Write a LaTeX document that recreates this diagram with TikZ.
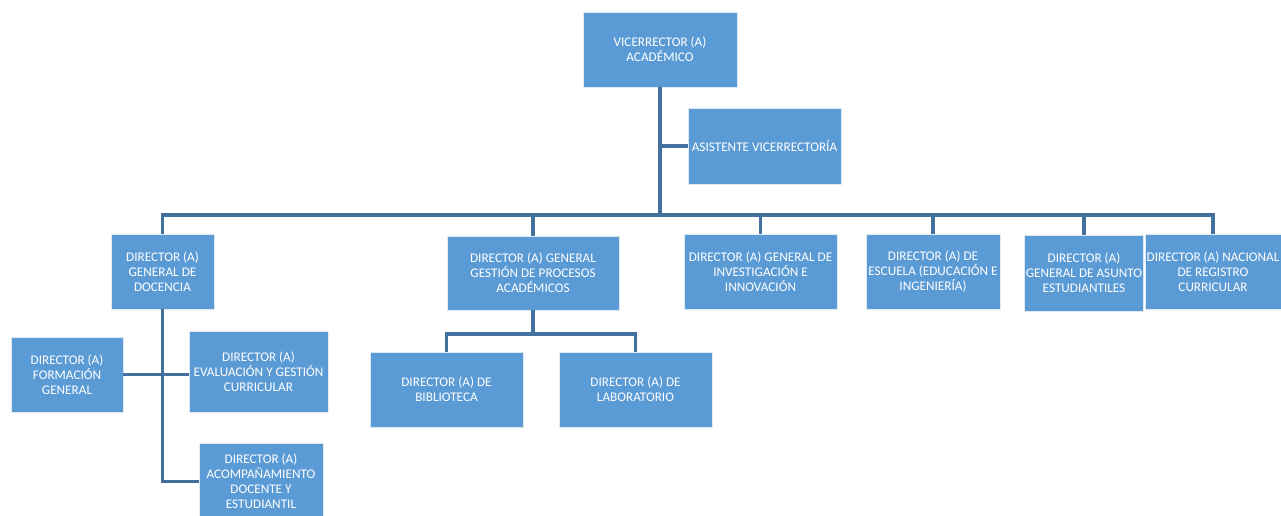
\documentclass[tikz,border=0pt]{standalone}
\usepackage{fontspec}
\setmainfont{Carlito}
\definecolor{cajaazul}{HTML}{5B9BD5}
\definecolor{lineaazul}{HTML}{41719C}

\begin{document}
\begin{tikzpicture}[x=0.025cm,y=-0.025cm,
	caja/.style={rectangle, fill=cajaazul, draw=white!80!cajaazul, line width=0.5pt,
		text=white, align=center, inner sep=1pt,
		font=\fontsize{9.4}{10.6}\selectfont},
	tam/.style 2 args={minimum width=#1*0.025cm, minimum height=#2*0.025cm},
	linea/.style={draw=lineaazul, line width=2.4pt}]

	\useasboundingbox (0,0) rectangle (1281,515);

	%vicerrectoria
	\node [caja, tam={154}{75}] (vice) at (660,49.5) {VICERRECTOR (A)\\ACADÉMICO};
	\node [caja, tam={153}{76}] (asis) at (764.5,146) {ASISTENTE VICERRECTORÍA};

	%directores generales
	\node [caja, tam={103}{75}] (doc) at (162.5,271.5) {DIRECTOR (A)\\GENERAL DE\\DOCENCIA};
	\node [caja, tam={172}{74}] (ges) at (533,273) {DIRECTOR (A) GENERAL\\GESTIÓN DE PROCESOS\\ACADÉMICOS};
	\node [caja, tam={153}{75}] (inv) at (760.5,271.5) {DIRECTOR (A) GENERAL DE\\INVESTIGACIÓN E\\INNOVACIÓN};
	\node [caja, tam={134}{75}] (esc) at (933,271.5) {DIRECTOR (A) DE\\ESCUELA (EDUCACIÓN E\\INGENIERÍA)};
	\node [caja, tam={116}{76}] (asu) at (1084,273) {DIRECTOR (A)\\GENERAL DE ASUNTO\\ESTUDIANTILES};
	\node [caja, tam={136}{75}] (nac) at (1213,271.5) {DIRECTOR (A) NACIONAL\\DE REGISTRO\\CURRICULAR};

	%docencia
	\node [caja, tam={112}{75}] (for) at (67,374.5) {DIRECTOR (A)\\FORMACIÓN\\GENERAL};
	\node [caja, tam={139}{81}] (eva) at (258.5,371.5) {DIRECTOR (A)\\EVALUACIÓN Y GESTIÓN\\CURRICULAR};
	\node [caja, tam={124}{77}] (aco) at (261,481.5) {DIRECTOR (A)\\ACOMPAÑAMIENTO\\DOCENTE Y\\ESTUDIANTIL};

	%gestion
	\node [caja, tam={153}{75}] (bib) at (446.5,389.5) {DIRECTOR (A) DE\\BIBLIOTECA};
	\node [caja, tam={153}{75}] (lab) at (635.5,389.5) {DIRECTOR (A) DE\\LABORATORIO};

	%lineas
	\coordinate (bus) at (660,215);
	\draw [linea] (vice.south) -- (bus);
	\draw [linea] (vice.south |- asis.west) -- (asis.west);
	\foreach \d in {doc,ges,inv,esc,asu,nac}
		\draw [linea] (bus) -| (\d);

	\draw [linea] (doc.south) |- (aco.west);
	\draw [linea] (for.east) -- (for.east -| eva.west);

	\coordinate (gesbus) at (533,334);
	\draw [linea] (ges.south) -- (gesbus);
	\draw [linea] (gesbus) -| (bib);
	\draw [linea] (gesbus) -| (lab);
\end{tikzpicture}
\end{document}
